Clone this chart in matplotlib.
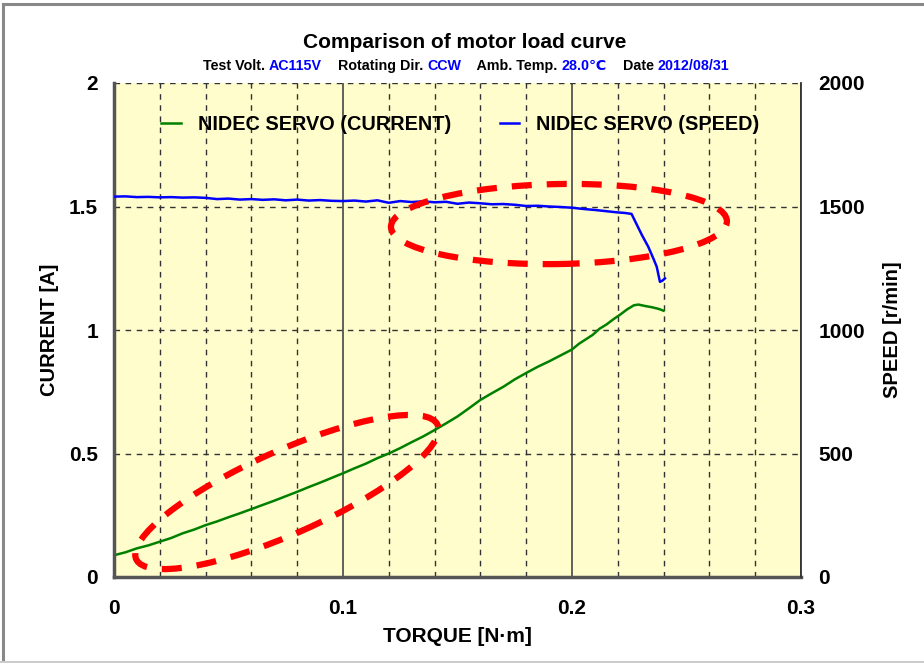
import numpy as np
import matplotlib
matplotlib.use("Agg")
import matplotlib.pyplot as plt
import matplotlib.transforms as mtransforms
from matplotlib.patches import Ellipse
from matplotlib.lines import Line2D
from matplotlib.ticker import MultipleLocator

plt.rcParams["font.family"] = ["Liberation Sans", "DejaVu Sans"]
plt.rcParams["font.weight"] = "bold"

# ---------------------------------------------------------------------
# Data
# ---------------------------------------------------------------------
cur_torque = [0.000, 0.005, 0.010, 0.015, 0.020, 0.025, 0.030, 0.035, 0.040,
              0.045, 0.050, 0.055, 0.060, 0.065, 0.070, 0.075, 0.080, 0.085,
              0.090, 0.095, 0.100, 0.105, 0.110, 0.115, 0.120, 0.125, 0.130,
              0.135, 0.140, 0.145, 0.150, 0.155, 0.160, 0.165, 0.170, 0.175,
              0.180, 0.185, 0.190, 0.195, 0.200, 0.203, 0.206, 0.209, 0.212,
              0.215, 0.218, 0.221, 0.224, 0.227, 0.229, 0.232, 0.235, 0.238,
              0.240]
current = [0.088, 0.100, 0.116, 0.128, 0.143, 0.158, 0.177, 0.192, 0.210,
           0.225, 0.242, 0.258, 0.275, 0.292, 0.309, 0.327, 0.345, 0.364,
           0.382, 0.401, 0.420, 0.440, 0.459, 0.481, 0.500, 0.522, 0.546,
           0.569, 0.595, 0.622, 0.650, 0.683, 0.717, 0.744, 0.770, 0.800,
           0.826, 0.851, 0.873, 0.897, 0.921, 0.944, 0.962, 0.980, 1.005,
           1.022, 1.043, 1.062, 1.083, 1.100, 1.103, 1.097, 1.092, 1.085,
           1.078]

spd_torque = [0.000, 0.005, 0.010, 0.015, 0.020, 0.025, 0.030, 0.035, 0.040,
              0.045, 0.050, 0.055, 0.060, 0.065, 0.070, 0.075, 0.080, 0.085,
              0.090, 0.095, 0.100, 0.105, 0.110, 0.115, 0.120, 0.125, 0.130,
              0.135, 0.140, 0.145, 0.150, 0.155, 0.160, 0.165, 0.170, 0.175,
              0.180, 0.185, 0.190, 0.195, 0.200, 0.205, 0.210, 0.215, 0.220,
              0.223, 0.226, 0.228, 0.2305, 0.2333, 0.2355, 0.237, 0.2384,
              0.2395, 0.2406]
speed = [1540, 1541, 1538, 1539, 1537, 1538, 1536, 1537, 1535,
         1530, 1532, 1528, 1530, 1527, 1529, 1525, 1528, 1524,
         1526, 1523, 1522, 1524, 1520, 1525, 1515, 1522, 1518,
         1521, 1517, 1519, 1511, 1516, 1513, 1509, 1510, 1507,
         1502, 1503, 1500, 1498, 1495, 1490, 1486, 1481, 1476,
         1474, 1470, 1432, 1385, 1337, 1290, 1256, 1195,
         1200, 1209]

x_ticks = [0, 0.1, 0.2, 0.3]
x_ticklabels = ["0", "0.1", "0.2", "0.3"]
cur_ticks = [0, 0.5, 1, 1.5, 2]
cur_ticklabels = ["0", "0.5", "1", "1.5", "2"]
spd_ticks = [0, 500, 1000, 1500, 2000]

subtitle_parts = [("Test Volt. ", "black"), ("AC115V", "#0000FF"),
                  ("    Rotating Dir. ", "black"), ("CCW", "#0000FF"),
                  ("    Amb. Temp. ", "black"), ("28.0\u2103", "#0000FF"),
                  ("    Date ", "black"), ("2012/08/31", "#0000FF")]

BG = "#FFFDCC"
GRID = "#333333"

fig = plt.figure(figsize=(9.24, 6.63), dpi=100)
ax = fig.add_axes([114 / 924, 1 - 577 / 663, 687 / 924, 494 / 663])
ax.set_facecolor(BG)
ax2 = ax.twinx()

ax.plot(cur_torque, current, color="#008000", lw=1.8, label="NIDEC SERVO (CURRENT)")
ax2.plot(spd_torque, speed, color="#0000FF", lw=1.8, label="NIDEC SERVO (SPEED)")

ax.set_xlim(0, 0.3)
ax.set_ylim(0, 2)
ax2.set_ylim(0, 2000)
ax.set_xticks(x_ticks)
ax.set_xticklabels(x_ticklabels)
ax.xaxis.set_minor_locator(MultipleLocator(0.02))
ax.set_yticks(cur_ticks)
ax.set_yticklabels(cur_ticklabels)
ax2.set_yticks(spd_ticks)

ax.grid(which="major", axis="x", color="#555555", lw=1.3, ls="-")
ax.grid(which="minor", axis="x", color=GRID, lw=1.0, ls=(0, (4, 4)))
ax.grid(which="major", axis="y", color=GRID, lw=1.0, ls=(0, (4, 4)))
ax.set_axisbelow(True)

for a in (ax, ax2):
    a.tick_params(which="both", length=0, labelsize=15)
ax.tick_params(axis="y", pad=11.5)
ax.tick_params(axis="x", pad=16)
ax2.tick_params(axis="y", pad=12.5)

for a in (ax, ax2):
    a.spines["top"].set_visible(False)
ax.spines["left"].set_color("#555555")
ax.spines["left"].set_linewidth(2.5)
ax.spines["bottom"].set_color("#555555")
ax.spines["bottom"].set_linewidth(2.5)
ax2.spines["left"].set_visible(False)
ax2.spines["bottom"].set_visible(False)
ax2.spines["right"].set_color("#333333")
ax2.spines["right"].set_linewidth(1.3)
ax.spines["right"].set_visible(False)

ax.set_xlabel("TORQUE [N\u00b7m]", fontsize=15, fontweight="bold", labelpad=6)
ax.set_ylabel("CURRENT [A]", fontsize=14.5, fontweight="bold", labelpad=7)
ax2.set_ylabel("SPEED [r/min]", fontsize=14.5, fontweight="bold", labelpad=13)

h1, l1 = ax.get_legend_handles_labels()
h2, l2 = ax2.get_legend_handles_labels()
ax2.legend(h1 + h2, l1 + l2, ncol=2, frameon=False, loc="center",
           bbox_to_anchor=(0.504, 0.917), fontsize=14.3, handlelength=1.0,
           handletextpad=0.85, columnspacing=2.45)

# hand-drawn style highlight ellipses (sizes in pixels -> inches)
for (cx, cy), w, h, ang in [((0.1943, 1.429), 336, 80, 1),
                             ((0.0755, 0.344), 330, 83, 24)]:
    tr = fig.dpi_scale_trans + mtransforms.ScaledTranslation(cx, cy, ax.transData)
    e = Ellipse((0, 0), w / 100, h / 100, angle=ang, transform=tr,
                fill=False, edgecolor="#FF0000", lw=4.5,
                ls=(0, (3.2, 2.4)), capstyle="butt", zorder=10, clip_on=False)
    ax2.add_patch(e)

# titles
fig.text(465 / 924, 1 - 43 / 663, "Comparison of motor load curve",
         ha="center", va="center", fontsize=15, fontweight="bold")

renderer = fig.canvas.get_renderer()
texts = []
for s, c in subtitle_parts:
    t = fig.text(0, 1 - 66 / 663, s, color=c, fontsize=10.3, fontweight="bold",
                 ha="left", va="center")
    texts.append(t)
widths = [t.get_window_extent(renderer).width for t in texts]
x = 466 - sum(widths) / 2
for t, w in zip(texts, widths):
    t.set_x(x / 924)
    x += w

# outer frame of the picture
fig.add_artist(Line2D([2.5 / 924, 2.5 / 924], [0, 1 - 3.5 / 663],
                      transform=fig.transFigure, color="#888888", lw=2.2))
fig.add_artist(Line2D([2.5 / 924, 1], [1 - 3.5 / 663, 1 - 3.5 / 663],
                      transform=fig.transFigure, color="#888888", lw=2.2))
fig.add_artist(Line2D([0, 1], [1 - 662 / 663, 1 - 662 / 663],
                      transform=fig.transFigure, color="#cccccc", lw=1.5))

fig.savefig("out.png", dpi=100)
